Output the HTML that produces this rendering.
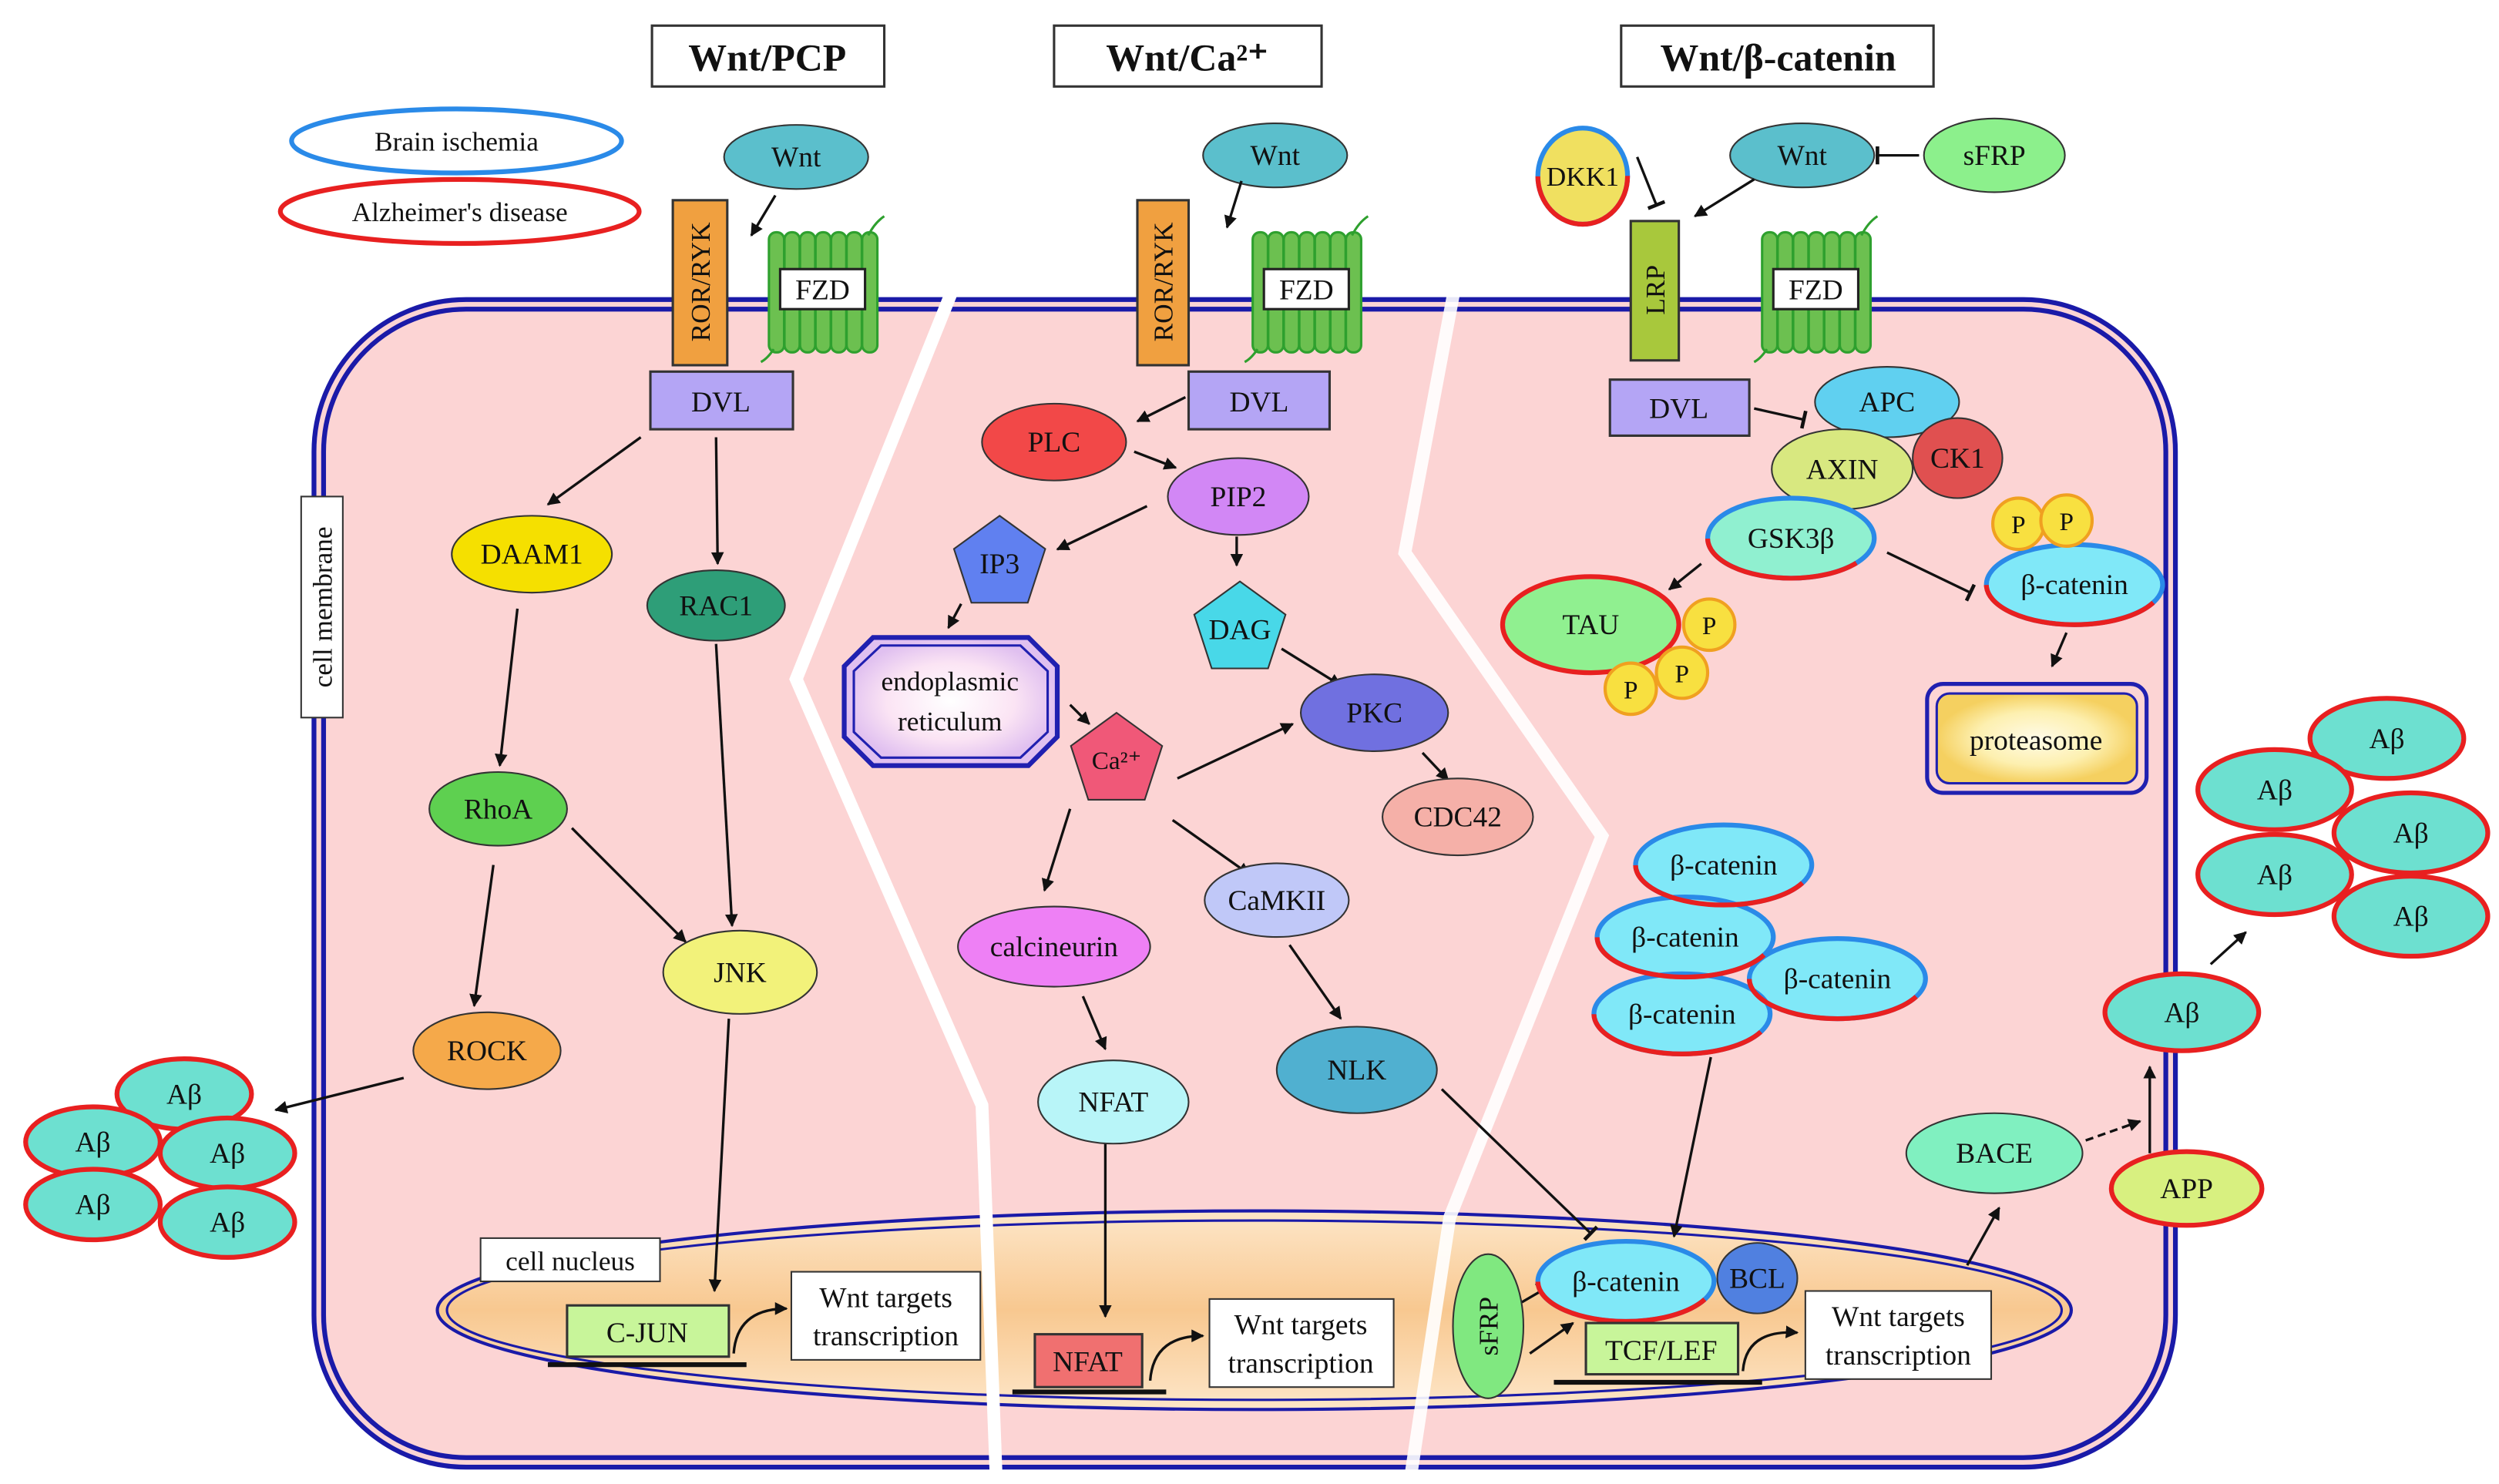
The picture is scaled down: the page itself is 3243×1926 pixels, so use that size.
<!DOCTYPE html>
<html><head><meta charset="utf-8"><style>
html,body{margin:0;padding:0;background:#fff}
svg{display:block}
text{font-family:"Liberation Serif",serif;fill:#111}
</style></head><body>
<svg width="3243" height="1926" viewBox="0 0 1560 926.5" preserveAspectRatio="none" xmlns="http://www.w3.org/2000/svg">
<defs>
<marker id="a" viewBox="0 0 10 10" refX="9" refY="5" markerWidth="5" markerHeight="5" orient="auto"><path d="M0,0L10,5L0,10z" fill="#111"/></marker>
<marker id="t" viewBox="0 0 4 10" refX="2" refY="5" markerWidth="3" markerHeight="7" orient="auto"><path d="M2,0V10" stroke="#111" stroke-width="2"/></marker>
<linearGradient id="nuc" x1="0" y1="0" x2="0" y2="1"><stop offset="0" stop-color="#fde6c8"/><stop offset="0.5" stop-color="#f8c890"/><stop offset="1" stop-color="#fde6c8"/></linearGradient>
<radialGradient id="er"><stop offset="0" stop-color="#fff"/><stop offset="0.6" stop-color="#fbe4f4"/><stop offset="1" stop-color="#e0c0f0"/></radialGradient>
<radialGradient id="pr"><stop offset="0" stop-color="#fffbe8"/><stop offset="0.6" stop-color="#fdf0b0"/><stop offset="1" stop-color="#f5d060"/></radialGradient>
<g id="fzd">
<rect x="0" y="0" width="9.5" height="75" rx="4.5" fill="#6cc050" stroke="#2ea02e" stroke-width="1.5"/>
<rect x="9.7" y="0" width="9.5" height="75" rx="4.5" fill="#6cc050" stroke="#2ea02e" stroke-width="1.5"/>
<rect x="19.4" y="0" width="9.5" height="75" rx="4.5" fill="#6cc050" stroke="#2ea02e" stroke-width="1.5"/>
<rect x="29.1" y="0" width="9.5" height="75" rx="4.5" fill="#6cc050" stroke="#2ea02e" stroke-width="1.5"/>
<rect x="38.8" y="0" width="9.5" height="75" rx="4.5" fill="#6cc050" stroke="#2ea02e" stroke-width="1.5"/>
<rect x="48.5" y="0" width="9.5" height="75" rx="4.5" fill="#6cc050" stroke="#2ea02e" stroke-width="1.5"/>
<rect x="58.2" y="0" width="9.5" height="75" rx="4.5" fill="#6cc050" stroke="#2ea02e" stroke-width="1.5"/>
<path d="M62,2 q4,-8 10,-12" stroke="#2ea02e" stroke-width="1.5" fill="none"/>
<path d="M3,73 q-4,6 -8,8" stroke="#2ea02e" stroke-width="1.5" fill="none"/>
<rect x="7" y="23" width="53" height="25" fill="#fff" stroke="#222" stroke-width="1.5"/>
<text x="33.5" y="42" font-size="18" text-anchor="middle">FZD</text>
</g>
</defs>

<g stroke="#333" stroke-width="1.5" fill="#fff">
<rect x="407" y="16" width="145" height="38"/><rect x="658" y="16" width="167" height="38"/><rect x="1012" y="16" width="195" height="38"/></g>
<g font-size="24" font-weight="bold" text-anchor="middle">
<text x="479" y="44">Wnt/PCP</text><text x="741" y="44">Wnt/Ca²⁺</text><text x="1110" y="44">Wnt/β-catenin</text></g>

<ellipse cx="285" cy="88" rx="103" ry="20" fill="#fff" stroke="#2a8ae8" stroke-width="3"/>
<text x="285" y="94" font-size="17" text-anchor="middle">Brain ischemia</text>
<ellipse cx="287" cy="132" rx="112" ry="20" fill="#fff" stroke="#e82020" stroke-width="3"/>
<text x="287" y="138" font-size="17" text-anchor="middle">Alzheimer's disease</text>

<rect x="196" y="187" width="1162" height="729" rx="95" fill="#fcd4d4" stroke="#1a1aa8" stroke-width="3"/>
<rect x="202" y="193" width="1150" height="717" rx="89" fill="none" stroke="#1a1aa8" stroke-width="3"/>

<ellipse cx="783" cy="818" rx="510" ry="62" fill="url(#nuc)" stroke="#1a1aa8" stroke-width="2"/>
<ellipse cx="783" cy="818" rx="504" ry="56" fill="none" stroke="#1a1aa8" stroke-width="1.5"/>

<polyline points="595,180 497,424 613,690 622,926" fill="none" stroke="#fff" stroke-width="8"/>
<polyline points="908,180 877,345 1000,522 905,760 880,926" fill="none" stroke="#fff" stroke-width="8" opacity="0.9"/>

<rect x="188" y="310" width="26" height="138" fill="#fff" stroke="#333"/>
<text transform="translate(207,379) rotate(-90)" font-size="17" text-anchor="middle">cell membrane</text>
<rect x="300" y="773" width="112" height="27" fill="#fff" stroke="#333"/>
<text x="356" y="793" font-size="17" text-anchor="middle">cell nucleus</text>

<ellipse cx="497" cy="98" rx="45" ry="20" fill="#5bbfcc" stroke="#333"/>
<text x="497" y="104" font-size="18" text-anchor="middle">Wnt</text>
<rect x="420" y="125" width="34" height="103" fill="#f0a040" stroke="#333" stroke-width="1.5"/>
<text transform="translate(443,176) rotate(-90)" font-size="17" text-anchor="middle">ROR/RYK</text>
<use href="#fzd" x="480" y="145"/>
<rect x="406" y="232" width="89" height="36" fill="#b4a5f5" stroke="#333" stroke-width="1.5"/>
<text x="450" y="257" font-size="18" text-anchor="middle">DVL</text>

<g stroke="#111" stroke-width="1.6" marker-end="url(#a)" fill="none">
<line x1="484" y1="122" x2="469" y2="147"/>
<line x1="400" y1="273" x2="342" y2="315"/>
<line x1="447" y1="273" x2="448" y2="352"/>
<line x1="323" y1="380" x2="312" y2="478"/>
<line x1="447" y1="402" x2="457" y2="578"/>
<line x1="357" y1="517" x2="428" y2="588"/>
<line x1="308" y1="540" x2="296" y2="628"/>
<line x1="252" y1="673" x2="172" y2="693"/>
<line x1="455" y1="636" x2="446" y2="806"/>
<path d="M458,845 q2,-28 33,-28"/>
</g>

<g stroke="#333" stroke-width="1">
<ellipse cx="332" cy="346" rx="50" ry="24" fill="#f5e000"/>
<ellipse cx="447" cy="378" rx="43" ry="22" fill="#2e9e78"/>
<ellipse cx="311" cy="505" rx="43" ry="23" fill="#5ed050"/>
<ellipse cx="462" cy="607" rx="48" ry="26" fill="#f2f27a"/>
<ellipse cx="304" cy="656" rx="46" ry="24" fill="#f5a94a"/>
</g>
<g font-size="18" text-anchor="middle">
<text x="332" y="352">DAAM1</text><text x="447" y="384">RAC1</text><text x="311" y="511">RhoA</text>
<text x="462" y="613">JNK</text><text x="304" y="662">ROCK</text></g>

<g fill="#6de0d0" stroke="#e82020" stroke-width="3">
<ellipse cx="115" cy="683" rx="42" ry="22"/><ellipse cx="58" cy="713" rx="42" ry="22"/><ellipse cx="142" cy="720" rx="42" ry="22"/>
<ellipse cx="58" cy="752" rx="42" ry="22"/><ellipse cx="142" cy="763" rx="42" ry="22"/></g>
<g font-size="18" text-anchor="middle">
<text x="115" y="689">Aβ</text><text x="58" y="719">Aβ</text><text x="142" y="726">Aβ</text><text x="58" y="758">Aβ</text><text x="142" y="769">Aβ</text></g>

<rect x="354" y="815" width="101" height="32" fill="#c8f59a" stroke="#333" stroke-width="1.5"/>
<text x="404" y="838" font-size="18" text-anchor="middle">C-JUN</text>
<line x1="342" y1="852" x2="466" y2="852" stroke="#111" stroke-width="3"/>
<rect x="494" y="794" width="118" height="55" fill="#fff" stroke="#333"/>
<text x="553" y="816" font-size="18" text-anchor="middle">Wnt targets</text>
<text x="553" y="840" font-size="18" text-anchor="middle">transcription</text>

<ellipse cx="796" cy="97" rx="45" ry="20" fill="#5bbfcc" stroke="#333"/>
<text x="796" y="103" font-size="18" text-anchor="middle">Wnt</text>
<rect x="710" y="125" width="32" height="103" fill="#f0a040" stroke="#333" stroke-width="1.5"/>
<text transform="translate(732,176) rotate(-90)" font-size="17" text-anchor="middle">ROR/RYK</text>
<use href="#fzd" x="782" y="145"/>
<rect x="742" y="232" width="88" height="36" fill="#b4a5f5" stroke="#333" stroke-width="1.5"/>
<text x="786" y="257" font-size="18" text-anchor="middle">DVL</text>

<g stroke="#111" stroke-width="1.6" marker-end="url(#a)" fill="none">
<line x1="775" y1="113" x2="766" y2="142"/>
<line x1="740" y1="248" x2="710" y2="263"/>
<line x1="708" y1="282" x2="734" y2="292"/>
<line x1="716" y1="316" x2="660" y2="343"/>
<line x1="772" y1="335" x2="772" y2="353"/>
<line x1="600" y1="377" x2="592" y2="392"/>
<line x1="800" y1="405" x2="837" y2="428"/>
<line x1="668" y1="440" x2="680" y2="452"/>
<line x1="735" y1="486" x2="807" y2="452"/>
<line x1="888" y1="470" x2="904" y2="487"/>
<line x1="668" y1="505" x2="652" y2="556"/>
<line x1="732" y1="512" x2="780" y2="546"/>
<line x1="676" y1="622" x2="690" y2="655"/>
<line x1="690" y1="712" x2="690" y2="822"/>
<line x1="805" y1="590" x2="837" y2="636"/>
<path d="M718,862 q2,-28 33,-28"/>
</g>

<g stroke="#333" stroke-width="1">
<ellipse cx="658" cy="276" rx="45" ry="24" fill="#f24848"/>
<ellipse cx="773" cy="310" rx="44" ry="24" fill="#d287f5"/>
<polygon points="624,322 652.5,342.7 641.6,376.3 606.4,376.3 595.5,342.7" fill="#6080f0"/>
<polygon points="774,363 802.5,383.7 791.6,417.3 756.4,417.3 745.5,383.7" fill="#48d8e8"/>
<polygon points="697,445 725.5,465.7 714.6,499.3 679.4,499.3 668.5,465.7" fill="#f05878"/>
<ellipse cx="858" cy="445" rx="46" ry="24" fill="#7070e0"/>
<ellipse cx="910" cy="510" rx="47" ry="24" fill="#f5b0a8"/>
<ellipse cx="658" cy="591" rx="60" ry="25" fill="#ee80f5"/>
<ellipse cx="797" cy="562" rx="45" ry="23" fill="#c0c8f8"/>
<ellipse cx="695" cy="688" rx="47" ry="26" fill="#b8f5f8"/>
<ellipse cx="847" cy="668" rx="50" ry="27" fill="#50b0d0"/>
</g>
<polygon points="545,398 642,398 660,416 660,460 642,478 545,478 527,460 527,416" fill="url(#er)" stroke="#2020b0" stroke-width="3"/>
<polygon points="550,403 637,403 654,419 654,457 637,473 550,473 533,457 533,419" fill="none" stroke="#2020b0" stroke-width="1.5"/>
<g font-size="18" text-anchor="middle">
<text x="658" y="282">PLC</text><text x="773" y="316">PIP2</text><text x="624" y="358">IP3</text><text x="774" y="399">DAG</text>
<text x="697" y="480" font-size="16">Ca²⁺</text><text x="858" y="451">PKC</text><text x="910" y="516">CDC42</text>
<text x="658" y="597">calcineurin</text><text x="797" y="568">CaMKII</text><text x="695" y="694">NFAT</text><text x="847" y="674">NLK</text>
<text x="593" y="431" font-size="17">endoplasmic</text><text x="593" y="456" font-size="17">reticulum</text></g>

<rect x="646" y="833" width="67" height="33" fill="#f07070" stroke="#333" stroke-width="1.5"/>
<text x="679" y="856" font-size="18" text-anchor="middle">NFAT</text>
<line x1="632" y1="869" x2="728" y2="869" stroke="#111" stroke-width="3"/>
<rect x="755" y="811" width="115" height="55" fill="#fff" stroke="#333"/>
<text x="812" y="833" font-size="18" text-anchor="middle">Wnt targets</text>
<text x="812" y="857" font-size="18" text-anchor="middle">transcription</text>

<ellipse cx="988" cy="110" rx="28" ry="30" fill="#f0e060" stroke="#2a8ae8" stroke-width="3"/>
<ellipse cx="988" cy="110" rx="28" ry="30" fill="none" stroke="#e82020" stroke-width="3" pathLength="100" stroke-dasharray="50 50"/>
<text x="988" y="116" font-size="17" text-anchor="middle">DKK1</text>
<ellipse cx="1125" cy="97" rx="45" ry="20" fill="#5bbfcc" stroke="#333"/>
<text x="1125" y="103" font-size="18" text-anchor="middle">Wnt</text>
<ellipse cx="1245" cy="97" rx="44" ry="23" fill="#8cf08c" stroke="#333"/>
<text x="1245" y="103" font-size="18" text-anchor="middle">sFRP</text>
<rect x="1018" y="138" width="30" height="87" fill="#a8c83c" stroke="#333" stroke-width="1.5"/>
<text transform="translate(1039,181) rotate(-90)" font-size="17" text-anchor="middle">LRP</text>
<use href="#fzd" x="1100" y="145"/>
<rect x="1005" y="237" width="87" height="35" fill="#b4a5f5" stroke="#333" stroke-width="1.5"/>
<text x="1048" y="261" font-size="18" text-anchor="middle">DVL</text>

<g stroke="#111" stroke-width="1.6" fill="none">
<line x1="1198" y1="97" x2="1172" y2="97" marker-end="url(#t)"/>
<line x1="1022" y1="98" x2="1034" y2="128" marker-end="url(#t)"/>
<line x1="1095" y1="112" x2="1058" y2="135" marker-end="url(#a)"/>
<line x1="1095" y1="255" x2="1126" y2="262" marker-end="url(#t)"/>
<line x1="1062" y1="352" x2="1042" y2="368" marker-end="url(#a)"/>
<line x1="1178" y1="345" x2="1230" y2="370" marker-end="url(#t)"/>
<line x1="1290" y1="395" x2="1281" y2="416" marker-end="url(#a)"/>
<line x1="1068" y1="660" x2="1045" y2="772" marker-end="url(#a)"/>
<line x1="900" y1="680" x2="993" y2="770" marker-end="url(#t)"/>
<line x1="955" y1="845" x2="982" y2="826" marker-end="url(#a)"/>
<line x1="950" y1="813" x2="962" y2="806" marker-end="url(#t)"/>
<path d="M1088,856 q2,-26 34,-24" marker-end="url(#a)"/>
<line x1="1228" y1="790" x2="1248" y2="754" marker-end="url(#a)"/>
<line x1="1302" y1="712" x2="1336" y2="700" marker-end="url(#a)" stroke-dasharray="5 3"/>
<line x1="1342" y1="720" x2="1342" y2="666" marker-end="url(#a)"/>
<line x1="1380" y1="602" x2="1402" y2="582" marker-end="url(#a)"/>
</g>

<g stroke="#333" stroke-width="1">
<ellipse cx="1178" cy="251" rx="45" ry="22" fill="#60d0f0"/>
<ellipse cx="1222" cy="286" rx="28" ry="25" fill="#e05050"/>
<ellipse cx="1150" cy="293" rx="44" ry="25" fill="#d8e880"/>
<ellipse cx="1245" cy="720" rx="55" ry="25" fill="#80f0c0"/>
<ellipse cx="1097" cy="798" rx="25" ry="22" fill="#5080e0"/>
<ellipse cx="929" cy="828" rx="22" ry="45" fill="#80e880"/>
</g>
<g fill="#90f0d0" stroke="#2a8ae8" stroke-width="3"><ellipse cx="1118" cy="336" rx="52" ry="25"/></g>
<ellipse cx="1118" cy="336" rx="52" ry="25" fill="none" stroke="#e82020" stroke-width="3" pathLength="100" stroke-dasharray="0 8 42 50"/>
<ellipse cx="993" cy="390" rx="55" ry="30" fill="#90f090" stroke="#e82020" stroke-width="3"/>
<ellipse cx="1365" cy="742" rx="47" ry="23" fill="#d8f080" stroke="#e82020" stroke-width="3"/>

<g fill="#80e8f8" stroke="#2a8ae8" stroke-width="3">
<ellipse cx="1295" cy="365" rx="55" ry="25"/><ellipse cx="1076" cy="540" rx="55" ry="25"/><ellipse cx="1052" cy="585" rx="55" ry="25"/>
<ellipse cx="1147" cy="611" rx="55" ry="25"/><ellipse cx="1050" cy="633" rx="55" ry="25"/><ellipse cx="1015" cy="800" rx="55" ry="25"/></g>
<g fill="none" stroke="#e82020" stroke-width="3" stroke-dasharray="0 5 45 50">
<ellipse cx="1295" cy="365" rx="55" ry="25" pathLength="100"/><ellipse cx="1076" cy="540" rx="55" ry="25" pathLength="100"/><ellipse cx="1052" cy="585" rx="55" ry="25" pathLength="100"/>
<ellipse cx="1147" cy="611" rx="55" ry="25" pathLength="100"/><ellipse cx="1050" cy="633" rx="55" ry="25" pathLength="100"/><ellipse cx="1015" cy="800" rx="55" ry="25" pathLength="100"/></g>

<g fill="#f8e040" stroke="#f0a020" stroke-width="2">
<circle cx="1260" cy="327" r="16"/><circle cx="1290" cy="325" r="16"/>
<circle cx="1067" cy="390" r="16"/><circle cx="1050" cy="420" r="16"/><circle cx="1018" cy="430" r="16"/></g>

<g font-size="18" text-anchor="middle">
<text x="1178" y="257">APC</text><text x="1222" y="292">CK1</text><text x="1150" y="299">AXIN</text><text x="1118" y="342">GSK3β</text>
<text x="993" y="396">TAU</text><text x="1295" y="371">β-catenin</text><text x="1076" y="546">β-catenin</text><text x="1052" y="591">β-catenin</text>
<text x="1147" y="617">β-catenin</text><text x="1050" y="639">β-catenin</text><text x="1015" y="806">β-catenin</text><text x="1097" y="804">BCL</text>
<text x="1245" y="726">BACE</text><text x="1365" y="748">APP</text>
<text x="1260" y="333" font-size="16">P</text><text x="1290" y="331" font-size="16">P</text><text x="1067" y="396" font-size="16">P</text><text x="1050" y="426" font-size="16">P</text><text x="1018" y="436" font-size="16">P</text></g>
<text transform="translate(935,828) rotate(-90)" font-size="17" text-anchor="middle">sFRP</text>

<rect x="1203" y="427" width="137" height="68" rx="10" fill="none" stroke="#2020b0" stroke-width="2.5"/>
<rect x="1209" y="433" width="125" height="56" rx="8" fill="url(#pr)" stroke="#2020b0" stroke-width="1.5"/>
<text x="1271" y="468" font-size="18" text-anchor="middle">proteasome</text>

<rect x="990" y="826" width="95" height="32" fill="#c8f59a" stroke="#333" stroke-width="1.5"/>
<text x="1037" y="849" font-size="18" text-anchor="middle">TCF/LEF</text>
<line x1="970" y1="863" x2="1100" y2="863" stroke="#111" stroke-width="3"/>
<rect x="1127" y="806" width="116" height="55" fill="#fff" stroke="#333"/>
<text x="1185" y="828" font-size="18" text-anchor="middle">Wnt targets</text>
<text x="1185" y="852" font-size="18" text-anchor="middle">transcription</text>

<g fill="#6de0d0" stroke="#e82020" stroke-width="3">
<ellipse cx="1362" cy="632" rx="48" ry="24"/><ellipse cx="1490" cy="461" rx="48" ry="25"/><ellipse cx="1420" cy="493" rx="48" ry="25"/>
<ellipse cx="1505" cy="520" rx="48" ry="25"/><ellipse cx="1420" cy="546" rx="48" ry="25"/><ellipse cx="1505" cy="572" rx="48" ry="25"/></g>
<g font-size="18" text-anchor="middle">
<text x="1362" y="638">Aβ</text><text x="1490" y="467">Aβ</text><text x="1420" y="499">Aβ</text><text x="1505" y="526">Aβ</text><text x="1420" y="552">Aβ</text><text x="1505" y="578">Aβ</text></g>
</svg>
</body></html>
